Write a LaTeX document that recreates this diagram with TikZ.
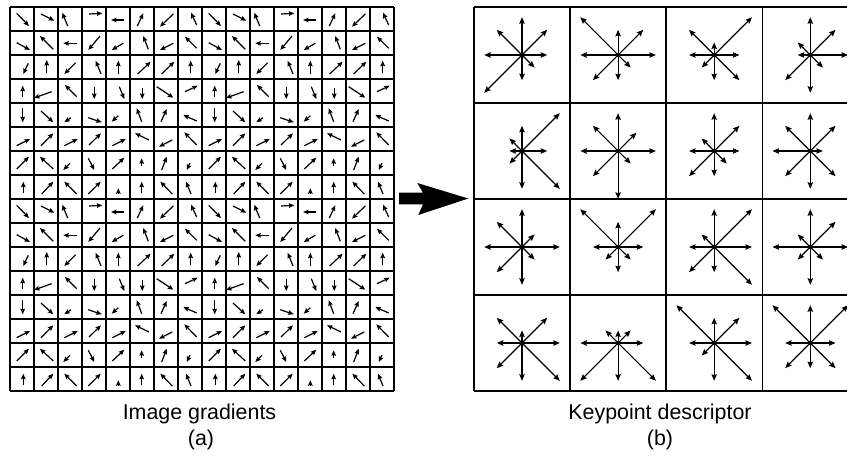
\documentclass[tikz,border=0pt]{standalone}
\usepackage{fontspec}
\setmainfont{Liberation Sans}
\usetikzlibrary{arrows.meta}
\begin{document}
\begin{tikzpicture}[x=1pt,y=-1pt,
  gline/.style={line width=1.5pt},
  garrow/.style={line width=1.2pt,-{Stealth[length=5.5pt,width=4.6pt,inset=0.8pt]}},
  sarrow/.style={line width=1.2pt,-{Stealth[length=6.5pt,width=5.4pt,inset=0.8pt]}},
  lbl/.style={font=\fontsize{21.4}{24}\selectfont, inner sep=0pt, anchor=base}]
\useasboundingbox (0,0) rectangle (847,462);
\clip (0,0) rectangle (847,462);
% ---------- left grid ----------
\foreach \i in {0,...,16}{
  \draw[gline] ({10+24*\i},7) -- ({10+24*\i},391);
  \draw[gline] (10,{7+24*\i}) -- (394,{7+24*\i});
}
\foreach \ox in {0,192}{
 \foreach \oy in {0,192}{
  \foreach \r/\c/\ax/\ay/\bx/\by in {
   0/0/6.7/6.3/19/19, 0/1/7/7/20.3/13.7, 0/2/9.7/19/4.3/5.7, 0/3/7/7/20.3/6.3,
   0/4/18.3/13/5/13, 0/5/7.3/19/13.3/6.3, 0/6/19.3/7/6/19.7, 0/7/18.7/18/13/5.7,
   1/0/6.7/11.7/20/19, 1/1/19.3/18.3/6/5, 1/2/18.7/12.3/5.3/12.3, 1/3/18/5/6.3/19,
   1/4/17.3/12.3/5.7/19, 1/5/18.3/18.3/13.3/5, 1/6/19.3/12.3/6/19, 1/7/18.7/17.3/7/5.7,
   2/0/18.3/8.3/13.3/19, 2/1/12.7/18.3/12.7/5, 2/2/17.7/7.7/6.3/19, 2/3/19/19/13.7/5.7,
   2/4/12.3/19/12.3/5.7, 2/5/7.7/19/20.7/6.7, 2/6/7.7/19/20.3/6.7, 2/7/12.7/18.3/12.7/5.7,
   3/0/12.7/17.7/12.7/6.7, 3/1/17.7/12.7/0/19, 3/2/18.7/17.7/7/6, 3/3/12.3/7.7/12.3/20,
   3/4/13.3/7.7/18.3/20, 3/5/12.3/8.7/12.3/20, 3/6/2.7/7.7/19.3/18.7, 3/7/7/12.7/19.7/6.7,
   4/0/12.7/5.3/12.7/19.3, 4/1/7/8/19.3/19.3, 4/2/13/14.7/6.3/19.3, 4/3/6.3/14.7/19.7/19.3,
   4/4/12.3/12.7/5.7/18.7, 4/5/11.7/18.7/6.7/5.3, 4/6/7/18.7/12.7/6, 4/7/18.7/18/5.3/12,
   5/0/6.7/18.7/20/12, 5/1/7/18.7/19.3/6.3, 5/2/6.3/18.7/19.7/12, 5/3/7/18/19/6.3,
   5/4/6.3/18.7/19.7/12, 5/5/19/13/5/6.3, 5/6/18.3/13/5/19.7, 5/7/18.7/18/6.3/5.3,
   6/0/6.7/18/19/5.7, 6/1/19.3/18/6/5.7, 6/2/12/12.3/5.3/19, 6/3/6.3/7.3/12.3/19,
   6/4/6.3/18/18.3/6.7, 6/5/11.7/14.7/11.7/7.3, 6/6/7.7/19/12.7/5.7, 6/7/12/12.3/8.7/19,
   7/0/13.3/17.7/13.3/6.7, 7/1/7.7/19/19.3/6.7, 7/2/18.7/19/6.3/6.7, 7/3/6.3/19/18.7/6.7,
   7/4/12.3/19/12.3/13.3, 7/5/11.7/18.3/11.7/6.7, 7/6/18.3/19/6.3/6.7, 7/7/13/19/8/6.7}{
   \draw[garrow] ({10+\ox+24*\c+\ax},{7+\oy+24*\r+\ay}) -- ({10+\ox+24*\c+\bx},{7+\oy+24*\r+\by});
  }
 }
}
% ---------- big arrow ----------
\fill (399,192.7) -- (423,192.7) -- (417.3,183) -- (468.3,198.5) -- (418.3,215) -- (423,204.3) -- (399,204.3) -- cycle;
% ---------- right grid ----------
\foreach \i in {0,...,4}{
  \draw[gline] ({474+96.1*\i},7) -- ({474+96.1*\i},391);
  \draw[gline] (474,{7+96*\i}) -- (858.5,{7+96*\i});
}
\foreach \r/\c/\e/\ne/\n/\nw/\w/\sw/\s/\se in {
  0/0/2/2/3/2/3/3/2/1, 0/1/3/2/2/3/3/2/2/1, 0/2/2/3/1/2/2/1/2/2, 0/3/3/2/3/1/1/2/3/1,
  1/0/2/3/2/1/1/1/3/3, 1/1/3/1.45/3/2/3/2/3.8/1, 1/2/2/2/3/1/2/2/2/1, 1/3/1/2/3/2/3/2/3/2,
  2/0/3/1/3/2/3/2/3/1, 2/1/2/3/2/3/2/1/2/1, 2/2/3/3/3/1/2/2/2/3, 2/3/3/2/3/1/3/1/3/1,
  3/0/3/2/1/2/2/2/3/3, 3/1/2/1/1/1/3/3/3/3, 3/2/3/2/2/3/2/1/3/3, 3/3/2/3/3/3/2/2/2/2}{
  \pgfmathsetmacro\cx{522+96.1*\c}
  \pgfmathsetmacro\cy{55+96*\r}
  \draw[sarrow] (\cx,\cy) -- ++({\e*12.6},0);
  \draw[sarrow] (\cx,\cy) -- ++({\ne*12.6},{-\ne*12.6});
  \draw[sarrow] (\cx,\cy) -- ++(0,{-\n*12.6});
  \draw[sarrow] (\cx,\cy) -- ++({-\nw*12.6},{-\nw*12.6});
  \draw[sarrow] (\cx,\cy) -- ++({-\w*12.6},0);
  \draw[sarrow] (\cx,\cy) -- ++({-\sw*12.6},{\sw*12.6});
  \draw[sarrow] (\cx,\cy) -- ++(0,{\s*12.6});
  \draw[sarrow] (\cx,\cy) -- ++({\se*12.6},{\se*12.6});
  \fill (\cx,\cy) circle (2);
}
% ---------- labels ----------
\node[lbl] (la) at (199.5,420) {Image gradients};
\node[lbl] (lan) at (201,446) {(a)};
\node[lbl] (lb) at (660,420) {Keypoint descriptor};
\node[lbl] (lbn) at (660,446) {(b)};
\end{tikzpicture}
\end{document}
